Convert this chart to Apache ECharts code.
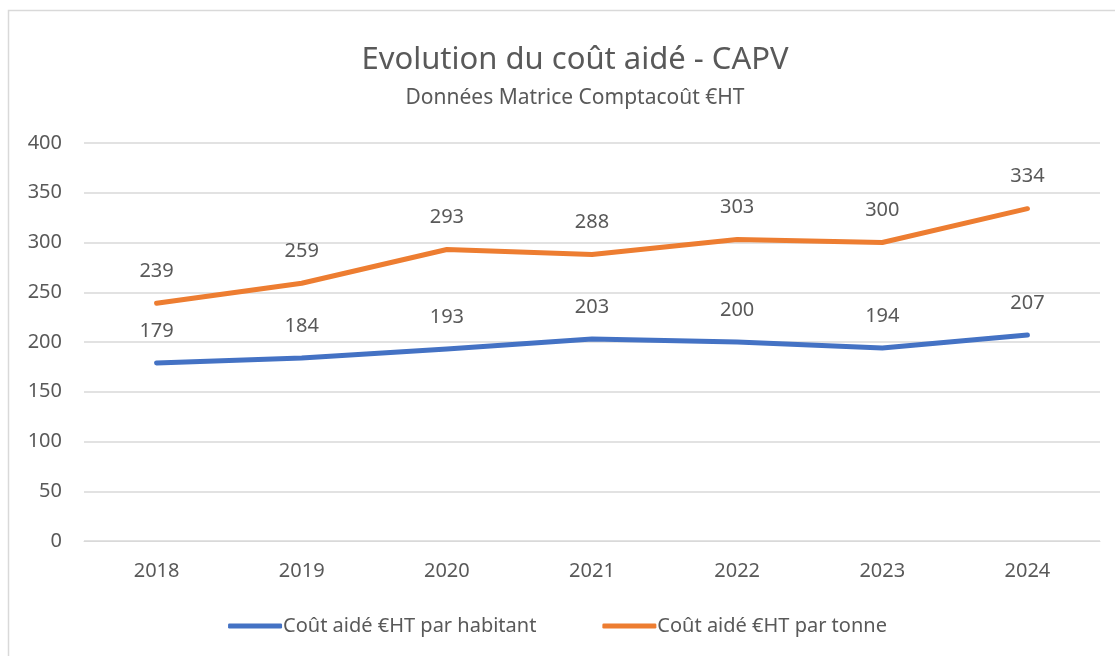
<!DOCTYPE html>
<html>
<head>
    <meta charset="utf-8">
    <title>ECharts</title>
    <script src="https://cdn.jsdelivr.net/npm/echarts@6/dist/echarts.min.js"></script>
    <style>
        html, body { margin: 0; padding: 0; background: #fff; }
    </style>
</head>
<body>
<div id="main" style="width: 1115px;height:656px;"></div>
<script type="text/javascript">
    var myChart = echarts.init(document.getElementById('main'));

    // données
    var years = ['2018', '2019', '2020', '2021', '2022', '2023', '2024'];
    var parHabitant = [179, 184, 193, 203, 200, 194, 207];
    var parTonne = [239, 259, 293, 288, 303, 300, 334];

    var font = 'Noto Sans';
    var grey = '#595959';

    var option = {
        textStyle: { fontFamily: font },
        graphic: [{
            type: 'rect',
            shape: { x: 8.5, y: 10.5, width: 1200, height: 800 },
            style: { fill: 'none', stroke: '#d9d9d9', lineWidth: 1.5 },
            silent: true
        }],
        title: {
            text: 'Evolution du coût aidé - CAPV',
            subtext: 'Données Matrice Comptacoût €HT',
            left: 570,
            textAlign: 'center',
            top: 40,
            itemGap: 12,
            textStyle: { fontFamily: font, fontSize: 31, fontWeight: 'normal', color: grey },
            subtextStyle: { fontFamily: font, fontSize: 21, color: grey }
        },
        legend: {
            bottom: 15,
            left: 'center',
            itemWidth: 54,
            itemHeight: 5,
            itemGap: 66,
            textStyle: { fontFamily: font, fontSize: 20, color: grey, padding: [0, 0, 0, -4] },
            data: [
                { name: 'Coût aidé €HT par habitant', icon: 'roundRect' },
                { name: 'Coût aidé €HT par tonne', icon: 'roundRect' }
            ]
        },
        grid: {
            left: 84,
            right: 15,
            top: 143,
            bottom: 115
        },
        xAxis: {
            type: 'category',
            data: years,
            boundaryGap: true,
            axisLine: { lineStyle: { color: '#d9d9d9' } },
            axisTick: { show: false },
            axisLabel: { color: grey, fontSize: 20, margin: 20, fontFamily: font }
        },
        yAxis: {
            type: 'value',
            min: 0,
            max: 400,
            interval: 50,
            axisLine: { show: false },
            axisTick: { show: false },
            axisLabel: { color: grey, fontSize: 20, margin: 22, fontFamily: font },
            splitLine: { lineStyle: { color: '#d9d9d9', width: 1.5 } }
        },
        series: [{
            name: 'Coût aidé €HT par habitant',
            type: 'line',
            data: parHabitant,
            symbol: 'circle',
            symbolSize: 0,
            showSymbol: true,
            color: '#4472C4',
            lineStyle: { width: 5, cap: 'round', join: 'round' },
            label: {
                show: true, position: 'top', distance: 22,
                color: grey, fontSize: 20, fontFamily: font
            },
            labelLayout: { hideOverlap: false }
        }, {
            name: 'Coût aidé €HT par tonne',
            type: 'line',
            data: parTonne,
            symbol: 'circle',
            symbolSize: 0,
            showSymbol: true,
            color: '#ED7D31',
            lineStyle: { width: 5, cap: 'round', join: 'round' },
            label: {
                show: true, position: 'top', distance: 22,
                color: grey, fontSize: 20, fontFamily: font
            },
            labelLayout: { hideOverlap: false }
        }]
    };

    myChart.setOption(option);
</script>
</body>
</html>
